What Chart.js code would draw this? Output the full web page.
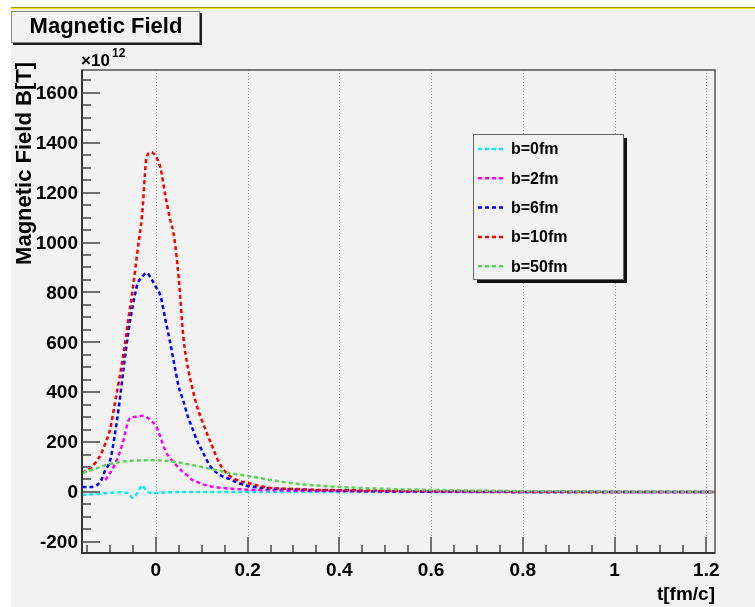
<!DOCTYPE html>
<html>
<head>
<meta charset="utf-8">
<script src="https://cdn.jsdelivr.net/npm/chart.js@4.4.1/dist/chart.umd.min.js"></script>
<style>
  body { margin: 0; background: #fff; }
  #wrap { width: 755px; height: 607px; }
</style>
</head>
<body>
<div id="wrap"><canvas id="fieldChart" width="755" height="607"></canvas></div>
<script>
// time points t[fm/c]
const tValues = [-0.16, -0.14, -0.12, -0.11, -0.10, -0.09, -0.08, -0.07, -0.06, -0.05,
  -0.04, -0.03, -0.02, -0.01, 0, 0.01, 0.02, 0.03, 0.04, 0.05,
  0.06, 0.07, 0.08, 0.09, 0.10, 0.12, 0.14, 0.16, 0.18, 0.20,
  0.25, 0.30, 0.35, 0.40, 0.50, 0.60, 0.70, 0.80, 0.90, 1.00,
  1.10, 1.20, 1.22];

// B in units of 1e12 T
const b0 = [-12, -10, -7, -5, -4, -2, -1, -2, -6, -24,
  -4, 26, 2, -4, -4, -3, -2, -1, -1, 0,
  0, 0, 0, 0, 0, 0, 0, 0, 0, 0,
  0, 0, 0, 0, 0, 0, 0, 0, 0, 0,
  0, 0, 0];
const b2 = [null, null, null, 48, 76, 108, 152, 212, 285, 300,
  302, 305, 300, 285, 265, 220, 168, 138, 116, 96,
  78, 64, 47, 40, 32, 22, 17, 13, 11, 9,
  7, 5, 4, 3, 2, 1, 0, 0, 0, 0,
  0, 0, 0];
const b6 = [20, 20, 44, 88, 124, 222, 350, 500, 640, 750,
  834, 862, 878, 855, 822, 786, 698, 610, 513, 421,
  365, 301, 253, 204, 168, 100, 68, 52, 36, 24,
  14, 10, 7, 5, 3, 2, 1, 0, 0, 0,
  0, 0, 0];
const b10 = [76, 100, 150, 196, 249, 349, 449, 561, 692, 818,
  966, 1111, 1343, 1362, 1345, 1300, 1195, 1103, 1020, 854,
  620, 497, 413, 341, 289, 196, 110, 66, 46, 36,
  16, 12, 8, 7, 5, 3, 2, 1, 1, 0,
  0, 0, 0];
const b50 = [76, 88, 100, 108, 112, 116, 120, 122, 124, 125,
  126, 127, 127, 127, 127, 126, 125, 123, 121, 118,
  115, 111, 107, 104, 100, 92, 84, 76, 70, 64,
  48, 34, 26, 20, 12, 8, 5, 3, 2, 1,
  1, 0, 0];

const seriesNames = ['b=0fm', 'b=2fm', 'b=6fm', 'b=10fm', 'b=50fm'];
const seriesColors = ['#00f0f0', '#ff00ff', '#0000ff', '#ff0000', '#59d454'];
const seriesData = [b0, b2, b6, b10, b50];

const xTicks = [0, 0.2, 0.4, 0.6, 0.8, 1, 1.2];
const xTickLabels = ['0', '0.2', '0.4', '0.6', '0.8', '1', '1.2'];
const yTicks = [-200, 0, 200, 400, 600, 800, 1000, 1200, 1400, 1600];
const yTickLabels = ['-200', '0', '200', '400', '600', '800', '1000', '1200', '1400', '1600'];

const FONT = '"Liberation Sans", Arial, Helvetica, sans-serif';
const DASH = [4, 3];

// ROOT-style frame, ticks, labels, legend
const rootStyle = {
  id: 'rootStyle',
  beforeDraw(chart) {
    const ctx = chart.ctx;
    const w = chart.width, h = chart.height;
    ctx.save();
    ctx.fillStyle = '#ffffff';
    ctx.fillRect(0, 0, w, h);
    ctx.fillStyle = '#f2f2f2';
    ctx.fillRect(11, 9, w - 11, h - 9);
    ctx.fillStyle = '#9a9a10';
    ctx.fillRect(11, 7, w - 11, 1);
    ctx.fillStyle = '#e8e820';
    ctx.fillRect(11, 8, w - 11, 1);
    ctx.restore();
  },
  beforeDatasetsDraw(chart) {
    const ctx = chart.ctx;
    const a = chart.chartArea;
    const x = chart.scales.x;
    ctx.save();
    ctx.strokeStyle = '#9a9a9a';
    ctx.lineWidth = 1;
    ctx.setLineDash([1, 2]);
    xTicks.forEach(t => {
      const px = Math.round(x.getPixelForValue(t)) + 0.5;
      ctx.beginPath();
      ctx.moveTo(px, a.top);
      ctx.lineTo(px, a.bottom);
      ctx.stroke();
    });
    ctx.restore();
  },
  afterDatasetsDraw(chart) {
    const ctx = chart.ctx;
    const a = chart.chartArea;
    const x = chart.scales.x, y = chart.scales.y;
    ctx.save();
    // ticks (drawn inward)
    ctx.strokeStyle = '#707070';
    ctx.lineWidth = 2;
    for (let v = -200; v <= 1650; v += 50) {
      const py = Math.round(y.getPixelForValue(v));
      const len = v % 200 === 0 ? 18 : 9;
      ctx.beginPath();
      ctx.moveTo(a.left, py);
      ctx.lineTo(a.left + len, py);
      ctx.stroke();
    }
    for (let i = -3; i <= 24; i++) {
      const t = i * 0.05;
      const px = Math.round(x.getPixelForValue(t));
      const len = i % 4 === 0 ? 16 : 8;
      ctx.beginPath();
      ctx.moveTo(px, a.bottom);
      ctx.lineTo(px, a.bottom - len);
      ctx.stroke();
    }
    // frame
    ctx.strokeStyle = '#555555';
    ctx.lineWidth = 1.5;
    ctx.strokeRect(a.left, a.top, a.right - a.left, a.bottom - a.top);
    ctx.strokeStyle = '#333333';
    ctx.lineWidth = 2;
    ctx.beginPath();
    ctx.moveTo(a.left, a.top);
    ctx.lineTo(a.left, a.bottom);
    ctx.lineTo(a.right, a.bottom);
    ctx.stroke();

    // tick labels
    ctx.fillStyle = '#000';
    ctx.font = 'bold 19px ' + FONT;
    ctx.textAlign = 'right';
    ctx.textBaseline = 'middle';
    yTicks.forEach((v, i) => {
      ctx.fillText(yTickLabels[i], 78, y.getPixelForValue(v) + 1);
    });
    ctx.textAlign = 'center';
    xTicks.forEach((t, i) => {
      ctx.fillText(xTickLabels[i], x.getPixelForValue(t), 571);
    });

    // axis titles
    ctx.textAlign = 'right';
    ctx.fillText('t[fm/c]', a.right, 595);
    ctx.save();
    ctx.translate(31, 62);
    ctx.rotate(-Math.PI / 2);
    ctx.font = 'bold 22px ' + FONT;
    ctx.textBaseline = 'alphabetic';
    ctx.textAlign = 'right';
    ctx.fillText('Magnetic Field B[T]', 0, 0);
    ctx.restore();

    // exponent
    ctx.textAlign = 'left';
    ctx.textBaseline = 'alphabetic';
    ctx.font = 'bold 17px ' + FONT;
    ctx.fillText('\u00d710', 81, 66);
    ctx.font = 'bold 12px ' + FONT;
    ctx.fillText('12', 112, 57);
    ctx.restore();
  },
  afterDraw(chart) {
    const ctx = chart.ctx;
    ctx.save();
    // title box
    ctx.fillStyle = '#1a1a1a';
    ctx.fillRect(13, 13, 189, 32);
    ctx.fillStyle = '#f2f2f2';
    ctx.fillRect(11, 11, 188, 31);
    ctx.strokeStyle = '#888';
    ctx.lineWidth = 1;
    ctx.strokeRect(11.5, 11.5, 188, 31);
    ctx.fillStyle = '#000';
    ctx.font = 'bold 22px ' + FONT;
    ctx.textAlign = 'center';
    ctx.textBaseline = 'middle';
    ctx.fillText('Magnetic Field', 106, 27);

    // legend box
    const lx = 473, ly = 134, lw = 150, lh = 145;
    ctx.fillStyle = '#111';
    ctx.fillRect(lx + 4, ly + 4, lw, lh);
    ctx.fillStyle = '#f2f2f2';
    ctx.fillRect(lx, ly, lw, lh);
    ctx.strokeStyle = '#666';
    ctx.lineWidth = 1;
    ctx.strokeRect(lx + 0.5, ly + 0.5, lw, lh);
    ctx.font = 'bold 16px ' + FONT;
    ctx.textAlign = 'left';
    seriesNames.forEach((name, i) => {
      const yy = 149 + i * 29.3;
      ctx.strokeStyle = seriesColors[i];
      ctx.lineWidth = 2.5;
      ctx.setLineDash(DASH);
      ctx.beginPath();
      ctx.moveTo(478, yy);
      ctx.lineTo(504, yy);
      ctx.stroke();
      ctx.setLineDash([]);
      ctx.fillStyle = '#000';
      ctx.fillText(name, 511, yy + 1);
    });
    ctx.restore();
  }
};

const datasets = seriesData.map((arr, i) => ({
  label: seriesNames[i],
  data: tValues.map((t, j) => ({ x: t, y: arr[j] })),
  borderColor: seriesColors[i],
  borderWidth: 2.5,
  borderDash: DASH,
  pointRadius: 0,
  fill: false,
  cubicInterpolationMode: 'monotone',
  spanGaps: false,
  order: 5 - i
}));

new Chart(document.getElementById('fieldChart'), {
  type: 'line',
  data: { datasets: datasets },
  options: {
    responsive: false,
    animation: false,
    layout: { padding: { left: 82, top: 70, right: 40, bottom: 54 } },
    plugins: {
      legend: { display: false },
      title: { display: false },
      tooltip: { enabled: false }
    },
    scales: {
      x: { type: 'linear', min: -0.161, max: 1.219, display: false },
      y: { type: 'linear', min: -245, max: 1692, display: false }
    }
  },
  plugins: [rootStyle]
});
</script>
</body>
</html>
